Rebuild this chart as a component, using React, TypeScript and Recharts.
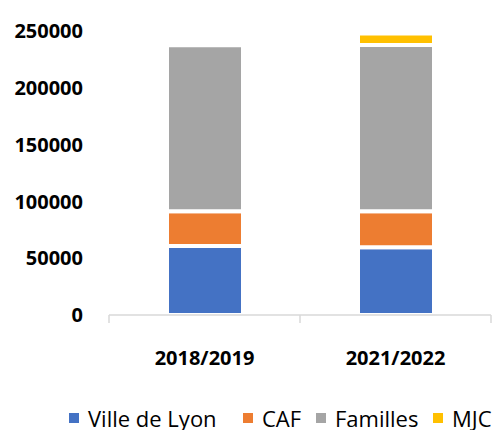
import React from 'react';
import { BarChart, Bar, XAxis, YAxis, Legend } from 'recharts';

const categories = ['2018/2019', '2021/2022'];
const villeDeLyon = [60800, 59600];
const caf = [30500, 31700];
const familles = [146200, 146300];
const mjc = [0, 10300];
const yTicks = [0, 50000, 100000, 150000, 200000, 250000];

const seriesNames = ['Ville de Lyon', 'CAF', 'Familles', 'MJC'];
const seriesKeys = ['ville', 'caf', 'familles', 'mjc'];
const seriesColors = ['#4472C4', '#ED7D31', '#A5A5A5', '#FFC000'];
const legendItemWidths = [174, 73, 117, 64];

const data = categories.map((c, i) => ({
  name: c,
  ville: villeDeLyon[i],
  caf: caf[i],
  familles: familles[i],
  mjc: mjc[i],
}));

const W = 497;
const H = 430;
const Y_AXIS_W = 109;
const MARGIN = { top: 31, right: 6, left: 0, bottom: 0 };
const PLOT_W = W - Y_AXIS_W - MARGIN.right;
const HALF_BAND = PLOT_W / categories.length / 2;
const FONT = '"Open Sans", sans-serif';

const XTick = (props: any) => {
  const { x, y, payload, index } = props;
  const last = index === categories.length - 1;
  return (
    <g>
      <line x1={x - HALF_BAND} x2={x - HALF_BAND} y1={y} y2={y + 8} stroke="#D9D9D9" strokeWidth={1.5} />
      {last && (
        <line x1={x + HALF_BAND} x2={x + HALF_BAND} y1={y} y2={y + 8} stroke="#D9D9D9" strokeWidth={1.5} />
      )}
      <text
        x={x}
        y={y + 42}
        textAnchor="middle"
        dominantBaseline="central"
        fontFamily={FONT}
        fontWeight={700}
        fontSize={20}
        fill="#000"
      >
        {payload.value}
      </text>
    </g>
  );
};

const LegendContent = (props: any) => {
  const payload = [...(props.payload || [])].sort(
    (a: any, b: any) => seriesNames.indexOf(a.value) - seriesNames.indexOf(b.value)
  );
  return (
    <div style={{ display: 'flex', alignItems: 'center', paddingLeft: 69, height: 28, boxSizing: 'border-box' }}>
      {payload.map((p: any, i: number) => (
        <div
          key={i}
          style={{ display: 'flex', alignItems: 'center', width: legendItemWidths[seriesNames.indexOf(p.value)], flex: 'none' }}
        >
          <span style={{ width: 10, height: 10, background: p.color, display: 'inline-block', marginRight: 9, flex: 'none' }} />
          <span style={{ fontFamily: FONT, fontSize: 22, color: '#000', lineHeight: '28px', whiteSpace: 'nowrap' }}>{p.value}</span>
        </div>
      ))}
    </div>
  );
};

export default function App() {
  return (
    <div style={{ position: 'absolute', left: 0, top: 0, width: W, height: H, background: '#fff' }}>
      <BarChart width={W} height={H} data={data} margin={MARGIN} barSize={76}>
        <XAxis
          dataKey="name"
          axisLine={{ stroke: '#D9D9D9', strokeWidth: 1.5 }}
          tickLine={false}
          tickSize={0}
          tickMargin={0}
          height={87}
          tick={<XTick />}
          interval={0}
        />
        <YAxis
          width={Y_AXIS_W}
          domain={[0, 250000]}
          ticks={yTicks}
          interval={0}
          axisLine={false}
          tickLine={false}
          tickSize={0}
          tickMargin={26}
          tick={{ fontFamily: FONT, fontWeight: 700, fontSize: 20, fill: '#000' }}
        />
        <Legend
          verticalAlign="bottom"
          height={28}
          content={<LegendContent />}
          wrapperStyle={{ top: 404, left: 0, width: W, height: 28, bottom: 'auto' }}
        />
        {seriesKeys.map((k, i) => (
          <Bar
            key={k}
            dataKey={k}
            name={seriesNames[i]}
            stackId="a"
            fill={seriesColors[i]}
            stroke="#fff"
            strokeWidth={4}
            isAnimationActive={false}
          />
        ))}
      </BarChart>
    </div>
  );
}
